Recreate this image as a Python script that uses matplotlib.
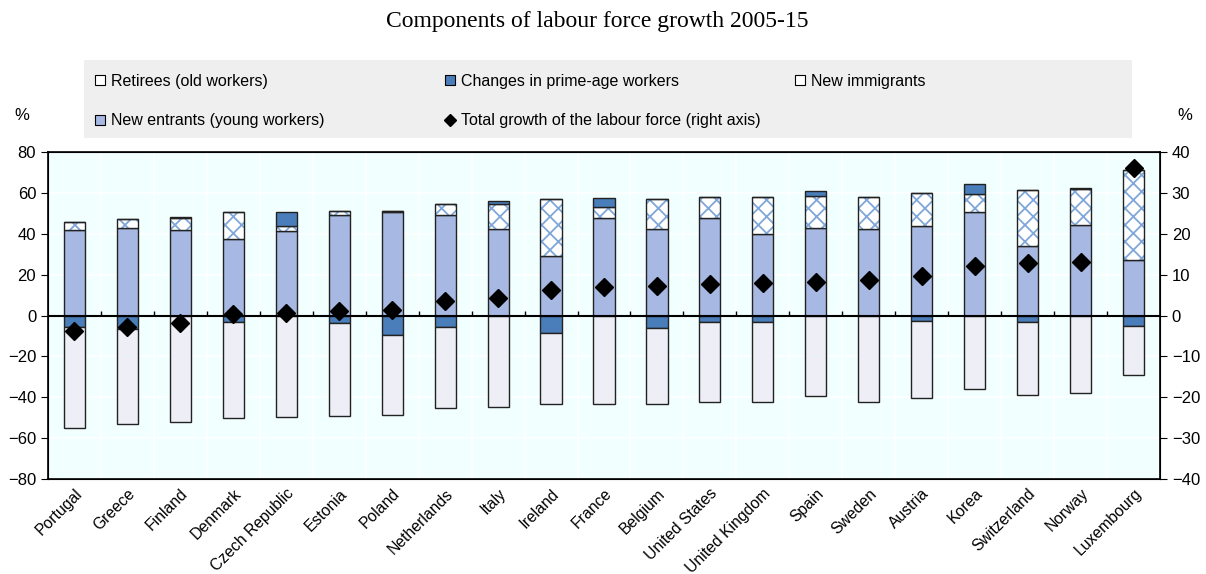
import numpy as np
import matplotlib
matplotlib.use("Agg")
from matplotlib import pyplot as plt
from matplotlib.patches import Patch, Rectangle
from matplotlib.lines import Line2D

plt.rcParams['font.family'] = ['Liberation Sans', 'DejaVu Sans']
plt.rcParams['hatch.linewidth'] = 1.3

countries = ["Portugal", "Greece", "Finland", "Denmark", "Czech Republic", "Estonia", "Poland",
             "Netherlands", "Italy", "Ireland", "France", "Belgium", "United States",
             "United Kingdom", "Spain", "Sweden", "Austria", "Korea", "Switzerland", "Norway",
             "Luxembourg"]

# left axis, %
retirees = [-49.3, -46.5, -52.2, -46.7, -49.6, -45.2, -39.3, -39.8, -44.7, -34.6, -43.1,
            -37.3, -38.7, -39.3, -39.6, -42.1, -37.7, -36.0, -35.8, -37.7, -24.3]
prime_age = [-5.7, -6.5, 0.5, -3.3, 7.0, -3.9, -9.5, -5.7, 1.0, -8.8, 4.1,
             -6.2, -3.4, -3.1, 2.1, 0.4, -2.6, 4.9, -3.2, 0.5, -5.0]
new_entrants = [41.6, 42.7, 41.9, 37.5, 41.4, 49.4, 50.6, 49.4, 42.2, 29.2, 47.5,
                42.1, 47.9, 40.1, 42.6, 42.3, 43.6, 50.5, 34.1, 44.2, 27.2]
immigrants = [4.0, 4.6, 5.9, 12.9, 2.3, 1.6, 0.6, 5.2, 12.6, 27.9, 5.8,
              14.7, 10.3, 17.8, 16.1, 15.5, 16.4, 9.0, 27.2, 17.9, 44.1]
# right axis, %
total_growth = [-3.8, -2.7, -1.8, 0.3, 0.7, 1.0, 1.4, 3.6, 4.4, 6.3, 7.0,
                7.2, 7.8, 8.0, 8.3, 8.6, 9.6, 12.1, 12.9, 13.1, 36.1]

c_ret = "#EDEEF6"
c_prime = "#4A7EBB"
c_new = "#A7B8E2"
c_hatch = "#7FA7D9"
edge = "#222222"

x = np.arange(len(countries))
w = 0.4
prime = np.array(prime_age)
pos_prime = np.where(prime > 0, prime, 0)
neg_prime = np.where(prime < 0, prime, 0)
new = np.array(new_entrants)
imm = np.array(immigrants)

W, H = 1206, 574
fig = plt.figure(figsize=(W / 100, H / 100), dpi=100)
ax = fig.add_axes([48 / W, 1 - 479 / H, (1160 - 48) / W, (479 - 152) / H])
ax.set_facecolor("#F2FFFF")

# bars
ax.bar(x, new, w, color=c_new, edgecolor=edge, linewidth=1, zorder=3)
ax.bar(x, imm, w, bottom=new, color="white", edgecolor=c_hatch, hatch="xx", linewidth=0, zorder=3)
ax.bar(x, imm, w, bottom=new, color="none", edgecolor=edge, linewidth=1, zorder=3)
ax.bar(x, pos_prime, w, bottom=new + imm, color=c_prime, edgecolor=edge, linewidth=1, zorder=3)
ax.bar(x, neg_prime, w, color=c_prime, edgecolor=edge, linewidth=1, zorder=3)
ax.bar(x, retirees, w, bottom=neg_prime, color=c_ret, edgecolor=edge, linewidth=1, zorder=3)

ax.set_ylim(-80, 80)
ax.set_yticks(np.arange(-80, 81, 20))
ax.set_xlim(-0.5, len(countries) - 0.5)
ax.set_xticks(x)
ax.set_xticklabels(countries, rotation=45, ha="right", rotation_mode="anchor", fontsize=11.3)
ax.tick_params(axis="x", length=0, pad=5)
ax.tick_params(axis="y", labelsize=12, length=5, direction="out")

# white grid
ax.set_axisbelow(True)
ax.grid(axis="y", color="white", linewidth=1.2, zorder=0)
for b in np.arange(len(countries) - 1) + 0.5:
    ax.axvline(b, color="white", linewidth=1.2, zorder=0)

# zero line with small category ticks
ax.axhline(0, color="black", linewidth=1.5, zorder=4)
ax.vlines(np.arange(len(countries) - 1) + 0.5, 0, 2.2, color="black", linewidth=1, zorder=4)

for s in ax.spines.values():
    s.set_color("black")
    s.set_linewidth(1.2)

ax2 = ax.twinx()
ax2.plot(x, total_growth, linestyle="none", marker="D", markersize=9, color="black", zorder=5)
ax2.set_ylim(-40, 40)
ax2.set_yticks(np.arange(-40, 41, 10))
ax2.tick_params(axis="y", labelsize=12, length=5, direction="out")

fig.text(22 / W, 1 - 115 / H, "%", fontsize=12, ha="center", va="center")
fig.text(1185 / W, 1 - 115 / H, "%", fontsize=12, ha="center", va="center")

fig.text(597 / W, 1 - 22 / H, "Components of labour force growth 2005-15",
         fontsize=17, ha="center", va="center", family=["Liberation Serif", "DejaVu Serif"])

# legend: grey box with entries placed in two rows
fig.add_artist(Rectangle((84 / W, 1 - 138 / H), (1132 - 84) / W, 78 / H,
                         transform=fig.transFigure, facecolor="#EFEFEF", edgecolor="none", zorder=0))
entries = [
    (Patch(facecolor="white", edgecolor="black", linewidth=0.8), "Retirees (old workers)", 95, 81),
    (Patch(facecolor=c_prime, edgecolor="black", linewidth=0.8), "Changes in prime-age workers", 445, 81),
    (Patch(facecolor="white", edgecolor="black", linewidth=0.8), "New immigrants", 795, 81),
    (Patch(facecolor=c_new, edgecolor="black", linewidth=0.8), "New entrants (young workers)", 95, 121),
    (Line2D([], [], linestyle="none", marker="D", markersize=6, color="black"),
     "Total growth of the labour force (right axis)", 445, 121),
]
for h, lab, lx, ly in entries:
    fig.legend([h], [lab], loc="center left", bbox_to_anchor=(lx / W, 1 - ly / H),
               fontsize=11.5, frameon=False, borderpad=0, borderaxespad=0,
               handlelength=0.65, handleheight=0.65, handletextpad=0.35)

fig.savefig("out.png", dpi=100)
